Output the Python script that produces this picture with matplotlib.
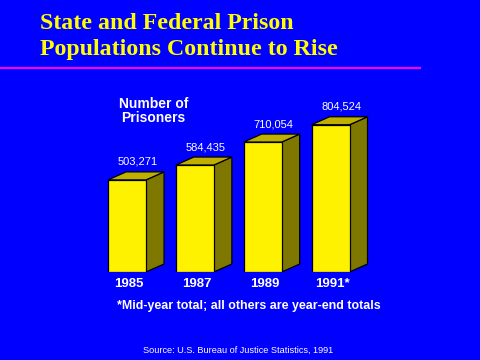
import matplotlib
matplotlib.use("Agg")
import matplotlib.pyplot as plt
from matplotlib.patches import Polygon
from matplotlib.lines import Line2D

years = ["1985", "1987", "1989", "1991*"]
prisoners = [503271, 584435, 710054, 804524]
value_labels = ["503,271", "584,435", "710,054", "804,524"]

W, H = 480, 360
fig = plt.figure(figsize=(4.8, 3.6), dpi=100, facecolor="#0000FF")

def fx(px):
    return px / W

def fy(py):
    return 1 - py / H

# axes: value 0 at y=272 px; scale 1.83e-4 px per prisoner
scale = 1.83e-4
ymax = 900000
ax_h = ymax * scale
ax_left_px = 93.1
px_per_unit = 67.83
xmin, xmax = -0.5, 3.8
ax_w = (xmax - xmin) * px_per_unit
ax = fig.add_axes([fx(ax_left_px), fy(272), ax_w / W, ax_h / H])
ax.set_xlim(xmin, xmax)
ax.set_ylim(0, ymax)
ax.axis("off")
ax.patch.set_alpha(0)

bw = 38 / px_per_unit
dx = 18 / px_per_unit
dy = 8 / scale
front = "#FFF200"
topc = "#BFB000"
sidec = "#7F7800"
xs = list(range(len(years)))
for x, v in zip(xs, prisoners):
    x0, x1 = x - bw / 2, x + bw / 2
    side = Polygon([(x1, 0), (x1 + dx, dy), (x1 + dx, v + dy), (x1, v)],
                   closed=True, facecolor=sidec, edgecolor="black", lw=0.9, zorder=2)
    top = Polygon([(x0, v), (x0 + dx, v + dy), (x1 + dx, v + dy), (x1, v)],
                  closed=True, facecolor=topc, edgecolor="black", lw=0.9, zorder=2)
    ax.add_patch(side)
    ax.add_patch(top)
ax.bar(xs, prisoners, width=bw, color=front, edgecolor="black", linewidth=0.9, zorder=3)

for x, v, lab in zip(xs, prisoners, value_labels):
    ax.text(x + dx / 2 + 2 / px_per_unit, v + dy + 7 / scale, lab, ha="center", va="baseline",
            color="white", fontsize=8, family="Liberation Sans")
for x, y in zip(xs, years):
    ax.text(x + 0.03, -6 / scale, y, ha="center", va="top", color="white",
            fontsize=9.5, fontweight="bold", family="Liberation Sans", clip_on=False)

# Title
fig.text(fx(40), fy(29), "State and Federal Prison", color="#FFFF00", fontsize=17.2,
         fontweight="bold", family="Liberation Serif", ha="left", va="baseline")
fig.text(fx(40), fy(55), "Populations Continue to Rise", color="#FFFF00", fontsize=17.2,
         fontweight="bold", family="Liberation Serif", ha="left", va="baseline")
fig.add_artist(Line2D([fx(1), fx(420)], [fy(68), fy(68)], color="#FF00FF", lw=1.5))

fig.text(fx(119), fy(108), "Number of", color="white", fontsize=10, fontweight="bold",
         family="Liberation Sans", ha="left", va="baseline")
fig.text(fx(121), fy(122), "Prisoners", color="white", fontsize=10, fontweight="bold",
         family="Liberation Sans", ha="left", va="baseline")

fig.text(fx(117), fy(309), "*Mid-year total; all others are year-end totals", color="white",
         fontsize=8.9, fontweight="bold", family="Liberation Sans", ha="left", va="baseline")
fig.text(fx(143), fy(353), "Source: U.S. Bureau of Justice Statistics, 1991", color="white",
         fontsize=6.6, family="Liberation Sans", ha="left", va="baseline")

fig.savefig("out.png", dpi=100, facecolor=fig.get_facecolor())
